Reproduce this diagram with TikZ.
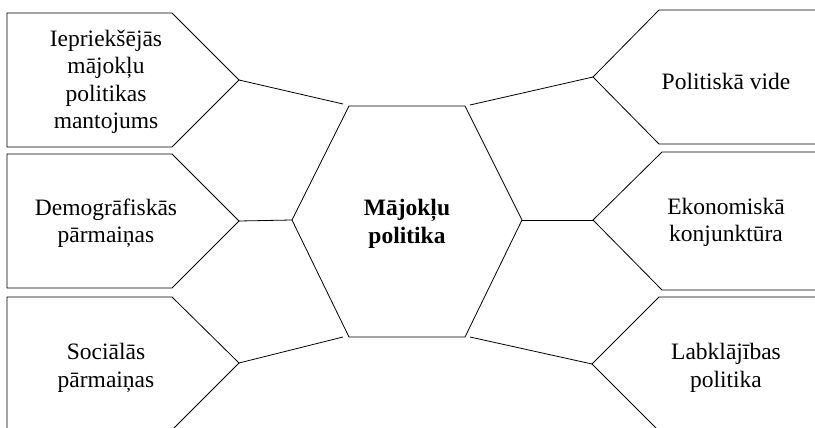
\documentclass[tikz,border=0pt]{standalone}
\usepackage{fontspec}
\setmainfont{Liberation Serif}
\begin{document}
\begin{tikzpicture}[x=1pt,y=-1pt]
\tikzset{
  edge/.style={draw=black, line width=0.8pt, line join=miter},
  lbl/.style={align=center, font=\fontsize{23.5}{27.5}\selectfont, inner sep=0pt},
  hexlbl/.style={lbl, font=\fontsize{23.5}{27.5}\selectfont\bfseries},
}
\useasboundingbox (0,0) rectangle (815,428);
\clip (0,0) rectangle (815,428);

% box tips and connector ends
\coordinate (A1) at (239,80);
\coordinate (A2) at (239,221);
\coordinate (A3) at (239,363);
\coordinate (B1) at (593,77);
\coordinate (B2) at (593,220);
\coordinate (B3) at (592,364);
% hexagon vertices
\coordinate (H1) at (349,106);
\coordinate (H2) at (465,106);
\coordinate (H3) at (522,220);
\coordinate (H4) at (465,337);
\coordinate (H5) at (349,337);
\coordinate (H6) at (292,220);
% connector ends near hexagon
\coordinate (E1) at (343,104);
\coordinate (E3) at (343,337);
\coordinate (F1) at (470,105);
\coordinate (F3) at (470,337);

% left boxes
\draw[edge] (7,13) -- (172,13) -- (A1) -- (172,147) -- (7,147) -- cycle;
\draw[edge] (7,154) -- (172,154) -- (A2) -- (172,288) -- (7,288) -- cycle;
\draw[edge] (7,297) -- (172,297) -- (A3) -- (172,430) -- (7,430) -- cycle;
% right boxes
\draw[edge] (830,10) -- (659,10) -- (B1) -- (659,144) -- (830,144);
\draw[edge] (830,152) -- (662,152) -- (B2) -- (662,290) -- (830,290);
\draw[edge] (830,297) -- (659,297) -- (B3) -- (659,431) -- (830,431);
% hexagon
\draw[edge] (H1) -- (H2) -- (H3) -- (H4) -- (H5) -- (H6) -- cycle;

% connectors
\draw[edge] (A1) -- (E1);
\draw[edge] (A2) -- (H6);
\draw[edge] (A3) -- (E3);
\draw[edge] (B1) -- (F1);
\draw[edge] (B2) -- (H3);
\draw[edge] (B3) -- (F3);

% labels
\node[lbl] (t1) at (106,82) {Iepriekšējās\\mājokļu\\politikas\\mantojums};
\node[lbl] (t2) at (106,223) {Demogrāfiskās\\pārmaiņas};
\node[lbl] (t3) at (106,368) {Sociālās\\pārmaiņas};
\node[lbl] (t4) at (726,81.5) {Politiskā vide};
\node[lbl] (t5) at (726,222.5) {Ekonomiskā\\konjunktūra};
\node[lbl] (t6) at (726,368) {Labklājības\\politika};
\node[hexlbl] (hex) at (407,224) {Mājokļu\\politika};
\end{tikzpicture}
\end{document}
